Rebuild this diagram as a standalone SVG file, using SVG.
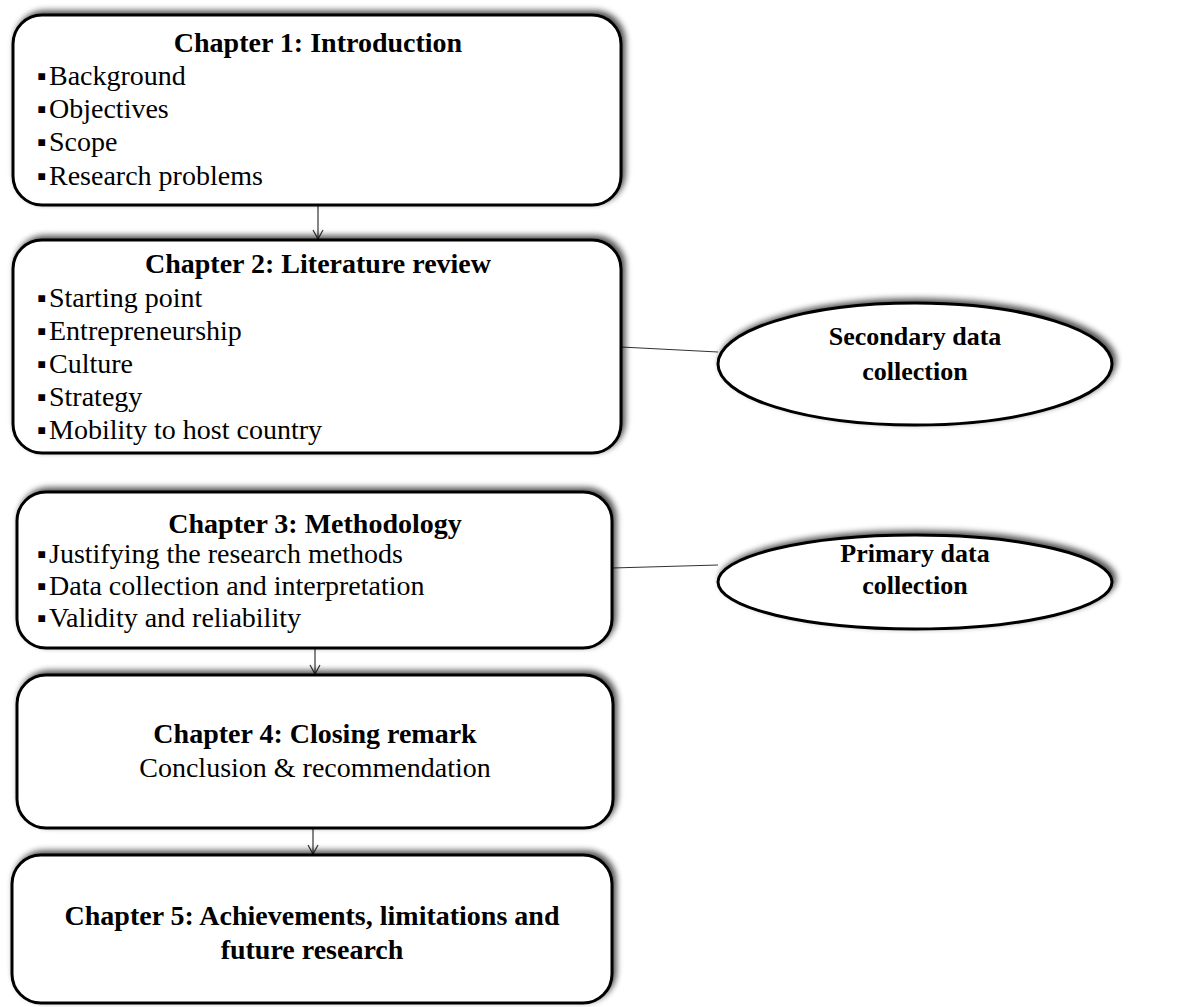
<svg xmlns="http://www.w3.org/2000/svg" width="1178" height="1007" viewBox="0 0 1178 1007">
<style>
.box{fill:#fff;stroke:#000;stroke-width:3;filter:url(#sh)}
.ell{fill:#fff;stroke:#000;stroke-width:3;filter:url(#sh)}
.t{font-family:"Liberation Serif","Times New Roman",serif;font-size:28px;fill:#000}
.b{font-weight:bold;text-anchor:middle}
.e{font-family:"Liberation Serif","Times New Roman",serif;font-size:26px;font-weight:bold;text-anchor:middle;fill:#000}
.bl{font-family:"Liberation Serif","DejaVu Sans",serif;font-size:27px;fill:#000}
.c{stroke:#333;stroke-width:1.2;fill:none}
</style>
<defs>
<filter id="sh" x="-10%" y="-20%" width="120%" height="140%">
<feGaussianBlur in="SourceAlpha" stdDeviation="3"/>
<feOffset dx="3" dy="-3" result="o"/>
<feComponentTransfer><feFuncA type="linear" slope="0.7"/></feComponentTransfer>
<feMerge><feMergeNode/><feMergeNode in="SourceGraphic"/></feMerge>
</filter>
<marker id="ar" markerWidth="12" markerHeight="12" refX="10" refY="6" orient="auto" markerUnits="userSpaceOnUse">
<path d="M1,1 L10,6 L1,11" fill="none" stroke="#333" stroke-width="1.2"/>
</marker>
</defs>
<g id="connectors">
<line class="c" x1="318" y1="205" x2="318" y2="239" marker-end="url(#ar)"/>
<line class="c" x1="315" y1="648" x2="315" y2="674" marker-end="url(#ar)"/>
<line class="c" x1="313" y1="828" x2="313" y2="854" marker-end="url(#ar)"/>
<line class="c" x1="621" y1="347" x2="718" y2="352"/>
<line class="c" x1="612" y1="568" x2="718" y2="565"/>
</g>
<g id="ch1">
<rect class="box" x="13" y="15" width="608" height="190" rx="29"/>
<text class="t b" x="318" y="52">Chapter 1: Introduction</text>
<text class="bl" x="37" y="85">▪</text><text class="t" x="49" y="85">Background</text>
<text class="bl" x="37" y="118">▪</text><text class="t" x="49" y="118">Objectives</text>
<text class="bl" x="37" y="151">▪</text><text class="t" x="49" y="151">Scope</text>
<text class="bl" x="37" y="185">▪</text><text class="t" x="49" y="185">Research problems</text>
</g>
<g id="ch2">
<rect class="box" x="13" y="240" width="608" height="213" rx="29"/>
<text class="t b" x="318" y="273">Chapter 2: Literature review</text>
<text class="bl" x="37" y="307">▪</text><text class="t" x="49" y="307">Starting point</text>
<text class="bl" x="37" y="340">▪</text><text class="t" x="49" y="340">Entrepreneurship</text>
<text class="bl" x="37" y="373">▪</text><text class="t" x="49" y="373">Culture</text>
<text class="bl" x="37" y="406">▪</text><text class="t" x="49" y="406">Strategy</text>
<text class="bl" x="37" y="439">▪</text><text class="t" x="49" y="439">Mobility to host country</text>
</g>
<g id="secondary">
<ellipse class="ell" cx="915" cy="364" rx="197" ry="61"/>
<text class="e" x="915" y="345">Secondary data</text>
<text class="e" x="915" y="380">collection</text>
</g>
<g id="ch3">
<rect class="box" x="17" y="492" width="595" height="156" rx="29"/>
<text class="t b" x="315" y="533">Chapter 3: Methodology</text>
<text class="bl" x="37" y="563">▪</text><text class="t" x="49" y="563">Justifying the research methods</text>
<text class="bl" x="37" y="595">▪</text><text class="t" x="49" y="595">Data collection and interpretation</text>
<text class="bl" x="37" y="627">▪</text><text class="t" x="49" y="627">Validity and reliability</text>
</g>
<g id="primary">
<ellipse class="ell" cx="915" cy="582" rx="197" ry="47"/>
<text class="e" x="915" y="562">Primary data</text>
<text class="e" x="915" y="594">collection</text>
</g>
<g id="ch4">
<rect class="box" x="17" y="675" width="596" height="153" rx="29"/>
<text class="t b" x="315" y="743">Chapter 4: Closing remark</text>
<text class="t" x="315" y="777" text-anchor="middle">Conclusion &amp; recommendation</text>
</g>
<g id="ch5">
<rect class="box" x="12" y="855" width="600" height="148" rx="29"/>
<text class="t b" x="312" y="925">Chapter 5: Achievements, limitations and</text>
<text class="t b" x="312" y="959">future research</text>
</g>
</svg>
